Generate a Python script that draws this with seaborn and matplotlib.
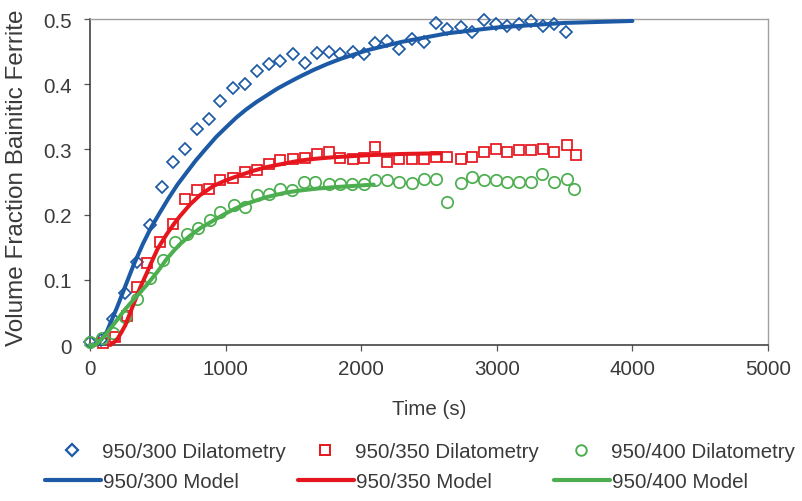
import matplotlib
matplotlib.use("Agg")
import matplotlib.pyplot as plt
from matplotlib.lines import Line2D
import seaborn as sns

# ---- measured transformation data (time in s, volume fraction) ----
t_300 = [0, 80, 170, 258, 345, 440, 530, 615, 702, 788, 874, 960, 1055, 1145,
         1231, 1317, 1403, 1500, 1588, 1674, 1760, 1846, 1940, 2019, 2105, 2191,
         2277, 2376, 2462, 2548, 2634, 2733, 2819, 2905, 2991, 3077, 3163, 3250,
         3340, 3422, 3508]
f_300 = [0.005, 0.008, 0.040, 0.080, 0.128, 0.184, 0.242, 0.281, 0.301, 0.332,
         0.347, 0.375, 0.394, 0.401, 0.421, 0.431, 0.436, 0.446, 0.433, 0.448,
         0.450, 0.447, 0.449, 0.446, 0.463, 0.466, 0.454, 0.470, 0.465, 0.494,
         0.484, 0.487, 0.480, 0.499, 0.492, 0.490, 0.492, 0.497, 0.490, 0.492,
         0.480]

t_350 = [95, 185, 270, 345, 420, 517, 615, 702, 788, 874, 960, 1055, 1145, 1231,
         1317, 1403, 1500, 1588, 1674, 1760, 1846, 1940, 2019, 2105, 2191, 2277,
         2376, 2462, 2548, 2634, 2733, 2819, 2905, 2991, 3077, 3163, 3250, 3340,
         3422, 3515, 3582]
f_350 = [0.003, 0.012, 0.045, 0.089, 0.126, 0.158, 0.185, 0.224, 0.237, 0.240,
         0.253, 0.256, 0.265, 0.268, 0.277, 0.283, 0.286, 0.287, 0.293, 0.296,
         0.287, 0.286, 0.287, 0.303, 0.280, 0.285, 0.286, 0.286, 0.288, 0.288,
         0.286, 0.288, 0.296, 0.301, 0.296, 0.299, 0.299, 0.301, 0.296, 0.306,
         0.291]

t_400 = [0, 86, 172, 258, 345, 443, 542, 628, 714, 800, 886, 960, 1059, 1145,
         1231, 1317, 1403, 1489, 1576, 1662, 1760, 1846, 1933, 2019, 2105, 2191,
         2277, 2376, 2462, 2548, 2634, 2733, 2819, 2905, 2991, 3077, 3163, 3250,
         3336, 3422, 3520, 3570]
f_400 = [0.005, 0.010, 0.018, 0.043, 0.071, 0.102, 0.130, 0.158, 0.171, 0.179,
         0.191, 0.204, 0.214, 0.212, 0.230, 0.232, 0.240, 0.237, 0.250, 0.250,
         0.247, 0.247, 0.247, 0.247, 0.253, 0.253, 0.250, 0.248, 0.255, 0.255,
         0.220, 0.248, 0.258, 0.253, 0.253, 0.250, 0.250, 0.250, 0.263, 0.250,
         0.255, 0.240]

# ---- model predictions ----
tm_300 = [0, 60, 123, 200, 260, 320, 390, 450, 515, 579, 645, 714, 780, 850,
          930, 1009, 1080, 1150, 1230, 1305, 1380, 1450, 1551, 1650, 1750, 1850,
          2043, 2300, 2634, 3000, 3500, 4000]
fm_300 = [0.0, 0.002, 0.020, 0.058, 0.090, 0.122, 0.155, 0.180, 0.203, 0.225,
          0.246, 0.265, 0.283, 0.300, 0.319, 0.335, 0.349, 0.361, 0.373, 0.383,
          0.393, 0.401, 0.412, 0.422, 0.431, 0.439, 0.452, 0.465, 0.478, 0.487,
          0.494, 0.497]

tm_350 = [150, 200, 260, 320, 370, 418, 460, 500, 566, 620, 665, 740, 812, 911,
          985, 1059, 1130, 1200, 1305, 1450, 1551, 1680, 1797, 2043, 2300, 2585]
fm_350 = [0.0, 0.008, 0.030, 0.062, 0.088, 0.110, 0.130, 0.148, 0.170, 0.186,
          0.198, 0.216, 0.230, 0.244, 0.251, 0.257, 0.262, 0.267, 0.273, 0.279,
          0.283, 0.286, 0.288, 0.291, 0.293, 0.294]

tm_400 = [0, 40, 100, 172, 260, 345, 418, 500, 566, 620, 665, 740, 812, 911,
          985, 1059, 1130, 1200, 1305, 1450, 1551, 1680, 1797, 2092]
fm_400 = [0.0, 0.0, 0.012, 0.031, 0.055, 0.075, 0.092, 0.113, 0.132, 0.145,
          0.155, 0.168, 0.179, 0.191, 0.200, 0.208, 0.215, 0.220, 0.227, 0.234,
          0.237, 0.240, 0.242, 0.246]

x_ticks = [0, 1000, 2000, 3000, 4000, 5000]
x_labels = ["0", "1000", "2000", "3000", "4000", "5000"]
y_ticks = [0, 0.1, 0.2, 0.3, 0.4, 0.5]
y_labels = ["0", "0.1", "0.2", "0.3", "0.4", "0.5"]

labels_exp = ["950/300 Dilatometry", "950/350 Dilatometry", "950/400 Dilatometry"]
labels_mod = ["950/300 Model", "950/350 Model", "950/400 Model"]

BLUE = "#1d5aa6"
RED = "#e5161d"
GREEN = "#4cae4f"
TEXT = "#3a3a3a"
FS = 14.8

sns.set_style("ticks")
plt.rcParams["font.family"] = ["Liberation Sans", "DejaVu Sans"]

W, H = 802, 502
fig = plt.figure(figsize=(W / 100, H / 100), dpi=100)
ax = fig.add_axes([90 / W, 1 - 346 / H, (768 - 90) / W, (346 - 20) / H])

exp_sets = [(t_300, f_300, "D", 6.4, BLUE),
            (t_350, f_350, "s", 7.8, RED),
            (t_400, f_400, "o", 8.2, GREEN)]
for t, f, mk, ms, c in exp_sets:
    sns.lineplot(x=t, y=f, ax=ax, estimator=None, sort=False, legend=False,
                 linestyle="", marker=mk, markersize=ms, markerfacecolor="none",
                 markeredgecolor=c, markeredgewidth=1.25, color=c,
                 clip_on=False, zorder=3)

mod_sets = [(tm_300, fm_300, BLUE), (tm_350, fm_350, RED), (tm_400, fm_400, GREEN)]
for t, f, c in mod_sets:
    sns.lineplot(x=t, y=f, ax=ax, estimator=None, sort=False, legend=False,
                 color=c, linewidth=2.9, solid_capstyle="round",
                 solid_joinstyle="round", clip_on=False, zorder=4)

ax.set_xlim(0, 5000)
ax.set_ylim(0, 0.5)
ax.set_xticks(x_ticks)
ax.set_xticklabels(x_labels)
ax.set_yticks(y_ticks)
ax.set_yticklabels(y_labels)
ax.tick_params(axis="both", labelsize=FS, labelcolor=TEXT, color="#555555",
               length=4, width=0.9, direction="out")
ax.tick_params(axis="y", pad=9)
ax.tick_params(axis="x", pad=6)

for side in ["left", "bottom"]:
    ax.spines[side].set_color("#333333")
    ax.spines[side].set_linewidth(1.1)
for side in ["top", "right"]:
    ax.spines[side].set_visible(True)
    ax.spines[side].set_color("#a0a0a0")
    ax.spines[side].set_linewidth(1.0)

ax.set_xlabel("Time (s)", fontsize=FS, color=TEXT, labelpad=15)
ax.set_ylabel("")
fig.text(17 / W, 1 - 346 / H, "Volume Fraction Bainitic Ferrite", rotation=90,
         ha="center", va="bottom", fontsize=17.5, color=TEXT)

# legend: first row markers, second row model lines, text aligned per column
marker_handles = [
    Line2D([], [], linestyle="", marker="D", markersize=5.8, markerfacecolor="none",
           markeredgecolor=BLUE, markeredgewidth=1.6),
    Line2D([], [], linestyle="", marker="s", markersize=7.4, markerfacecolor="none",
           markeredgecolor=RED, markeredgewidth=1.4),
    Line2D([], [], linestyle="", marker="o", markersize=7.6, markerfacecolor="none",
           markeredgecolor=GREEN, markeredgewidth=1.4),
]
line_handles = [Line2D([], [], color=c, linewidth=3.0) for c in (BLUE, RED, GREEN)]

row1_left = [51, 304, 560]
row2_left = [45, 298, 554]
for h, lab, x0 in zip(marker_handles, labels_exp, row1_left):
    fig.legend(handles=[h], labels=[lab], loc="center left",
               bbox_to_anchor=(x0 / W, 1 - 453 / H), frameon=False,
               borderpad=0, borderaxespad=0, handlelength=2.0,
               handletextpad=0.48, fontsize=FS, labelcolor=TEXT)
for h, lab, x0 in zip(line_handles, labels_mod, row2_left):
    fig.legend(handles=[h], labels=[lab], loc="center left",
               bbox_to_anchor=(x0 / W, 1 - 483 / H), frameon=False,
               borderpad=0, borderaxespad=0, handlelength=2.7,
               handletextpad=0.1, fontsize=FS, labelcolor=TEXT)

fig.savefig("out.png", dpi=100)
